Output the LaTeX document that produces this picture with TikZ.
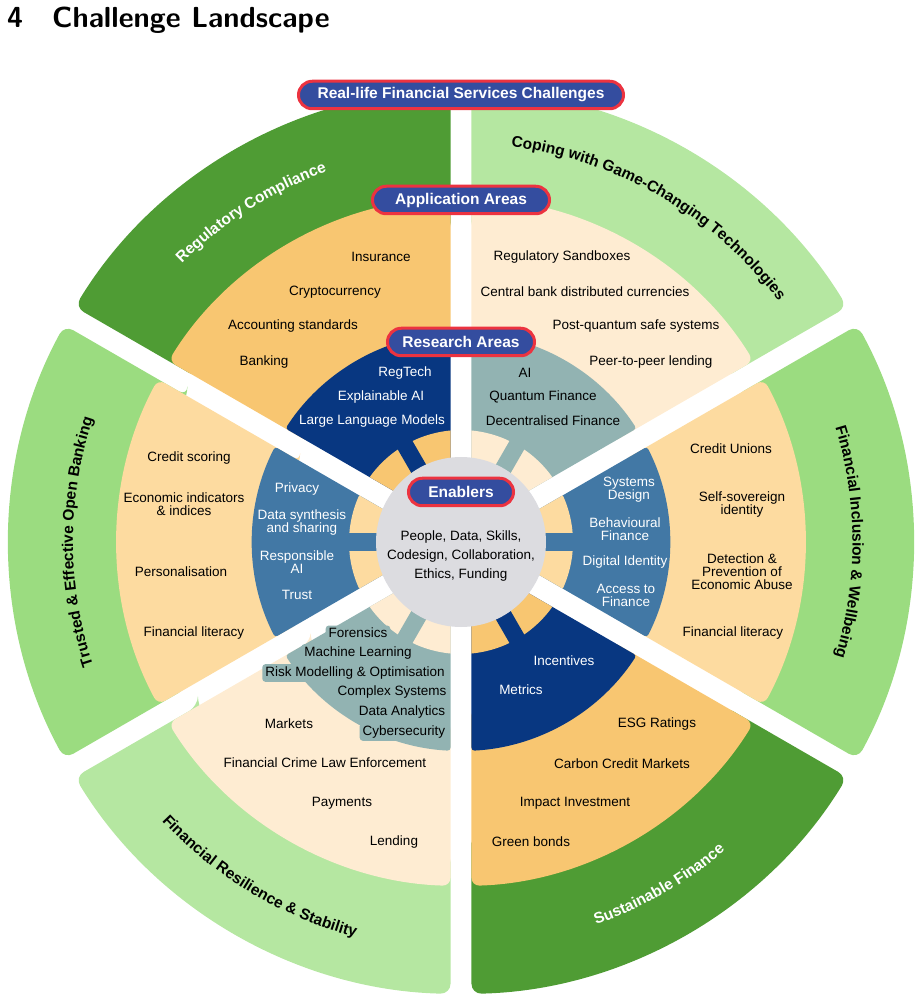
\documentclass[tikz,border=0pt]{standalone}
\usepackage{fontspec}
\setmainfont{Liberation Sans}
\usetikzlibrary{decorations.text}
\definecolor{dkgreen}{HTML}{4F9C34}
\definecolor{mdgreen}{HTML}{9BDC80}
\definecolor{ltgreen}{HTML}{B5E7A1}
\definecolor{apporange}{HTML}{F8C671}
\definecolor{ltorange}{HTML}{FDDBA0}
\definecolor{cream}{HTML}{FEECD2}
\definecolor{dkblue}{HTML}{083781}
\definecolor{mdblue}{HTML}{4278A5}
\definecolor{resteal}{HTML}{92B3B2}
\definecolor{pillblue}{HTML}{344D9F}
\definecolor{pillred}{HTML}{EC3340}
\definecolor{ctrgray}{HTML}{DCDCE0}
\newcommand\ringpath[3]{({#1-30+asin(10.5/#2)}:#2pt) -- ({#1-30+asin(10.5/#3)}:#3pt)
    arc[start angle={#1-30+asin(10.5/#3)},end angle={#1+30-asin(10.5/#3)},radius=#3pt]
    -- ({#1+30-asin(10.5/#2)}:#2pt)
    arc[start angle={#1+30-asin(10.5/#2)},end angle={#1-30+asin(10.5/#2)},radius=#2pt] -- cycle}
\begin{document}
\begin{tikzpicture}[x=1pt,y=1pt,
    lbl/.style={font=\fontsize{13.5}{13}\selectfont,align=center,inner sep=1pt},
    wlbl/.style={lbl,text=white},
    riskbox/.style={lbl,fill=resteal,rounded corners=3pt,inner xsep=3pt,inner ysep=2.5pt},
    pill/.style={draw=pillred,line width=3pt,fill=pillblue,text=white,rounded corners=13.75pt,
        minimum height=27.5pt,font=\bfseries\fontsize{15.5}{18}\selectfont}]
    \useasboundingbox (-461,-459) rectangle (460,542);
    \node[anchor=base west,inner sep=0,font=\sffamily\bfseries\fontsize{29}{34}\selectfont] (title)
        at (-454,514) {4\quad Challenge Landscape};
    \foreach \a/\cc/\ac/\rc in {120/dkgreen/apporange/dkblue,60/ltgreen/cream/resteal,
        0/mdgreen/ltorange/mdblue,-60/dkgreen/apporange/dkblue,
        -120/ltgreen/cream/resteal,180/mdgreen/ltorange/mdblue}{
    \fill[\cc,rounded corners=10pt] \ringpath{\a}{310}{452};
    \fill[\ac,rounded corners=8pt] \ringpath{\a}{180}{344};
    \fill[\rc,rounded corners=3pt] \ringpath{\a}{80}{209};
    \fill[\ac] \ringpath{\a}{84}{112};
    \draw[\rc,line width=17pt] (\a:84pt) -- (\a:113pt);
    }
    \node[circle,fill=ctrgray,minimum size=170pt,inner sep=0] (hub) at (0,0) {};
    \path[decorate,decoration={text along path,text align=center,text color=white,
        text={|\bfseries\fontsize{15.5}{18}\selectfont|Regulatory Compliance}}]
        (150:394pt) arc[start angle=150,end angle=95,radius=394pt];
    \path[decorate,decoration={text along path,text align=center,
        text={|\bfseries\fontsize{15.5}{18}\selectfont|Coping with Game-Changing Technologies}}]
        (95:398.5pt) arc[start angle=95,end angle=25,radius=398.5pt];
    \path[decorate,decoration={text along path,text align=center,
        text={|\bfseries\fontsize{15.5}{18}\selectfont|Financial Inclusion {\&} Wellbeing}}]
        (30:391.5pt) arc[start angle=30,end angle=-30,radius=391.5pt];
    \path[decorate,decoration={text along path,text align=center,text color=white,
        text={|\bfseries\fontsize{15.5}{18}\selectfont|Sustainable Finance}}]
        (-95:406pt) arc[start angle=-95,end angle=-25,radius=406pt];
    \path[decorate,decoration={text along path,text align=center,
        text={|\bfseries\fontsize{15.5}{18}\selectfont|Financial Resilience {\&} Stability}}]
        (-156:409pt) arc[start angle=-156,end angle=-86,radius=409pt];
    \path[decorate,decoration={text along path,text align=center,
        text={|\bfseries\fontsize{15.5}{18}\selectfont|Trusted {\&} Effective Open Banking}}]
        (210:388pt) arc[start angle=210,end angle=150,radius=388pt];
    \node[pill,minimum width=325pt] (challenges) at (0,447) {Real-life Financial Services Challenges};
    \node[pill,minimum width=177pt] (appareas) at (0,342) {Application Areas};
    \node[pill,minimum width=147pt] (resareas) at (0,200) {Research Areas};
    \node[pill,minimum width=105pt] (enablers) at (0,50) {Enablers};
    \node[lbl,font=\fontsize{13.5}{19}\selectfont] (enabtext) at (0,-14)
        {People, Data, Skills,\\Codesign, Collaboration,\\Ethics, Funding};
    \node[lbl] (insurance) at (-80,285) {Insurance};
    \node[lbl] (crypto) at (-126,250) {Cryptocurrency};
    \node[lbl] (accounting) at (-168,216) {Accounting standards};
    \node[lbl] (banking) at (-197,180) {Banking};
    \node[lbl] (sandboxes) at (101,285) {Regulatory Sandboxes};
    \node[lbl] (cbdc) at (124,250) {Central bank distributed currencies};
    \node[lbl] (postquantum) at (175,216) {Post-quantum safe systems};
    \node[lbl] (p2p) at (190,180) {Peer-to-peer lending};
    \node[wlbl] (regtech) at (-56,169) {RegTech};
    \node[wlbl] (xai) at (-80,145) {Explainable AI};
    \node[wlbl] (llm) at (-89,121) {Large Language Models};
    \node[lbl] (ai) at (64,169) {AI};
    \node[lbl] (quantum) at (82,145) {Quantum Finance};
    \node[lbl] (defi) at (92,121) {Decentralised Finance};
    \node[lbl] (scoring) at (-272,84) {Credit scoring};
    \node[lbl] (indicators) at (-277,37.5) {Economic indicators\\\& indices};
    \node[lbl] (personal) at (-280,-30) {Personalisation};
    \node[lbl] (litleft) at (-267,-91) {Financial literacy};
    \node[wlbl] (privacy) at (-164,53) {Privacy};
    \node[wlbl] (synthesis) at (-159,19.5) {Data synthesis\\and sharing};
    \node[wlbl] (responsible) at (-164,-20.5) {Responsible\\AI};
    \node[wlbl] (trust) at (-164,-53) {Trust};
    \node[wlbl] (sysdesign) at (168,52.5) {Systems\\Design};
    \node[wlbl] (behavioural) at (164,12.5) {Behavioural\\Finance};
    \node[wlbl] (identity) at (164,-20) {Digital Identity};
    \node[wlbl] (access) at (165,-53) {Access to\\Finance};
    \node[lbl] (unions) at (270,93) {Credit Unions};
    \node[lbl] (sovereign) at (281,37.5) {Self-sovereign\\identity};
    \node[lbl] (abuse) at (281,-30) {Detection \&\\Prevention of\\Economic Abuse};
    \node[lbl] (litright) at (272,-91) {Financial literacy};
    \node[riskbox] (forensics) at (-103,-91) {Forensics};
    \node[riskbox] (ml) at (-103,-111) {Machine Learning};
    \node[riskbox] (risk) at (-106,-131) {Risk Modelling \& Optimisation};
    \node[riskbox] (complex) at (-69,-150) {Complex Systems};
    \node[riskbox] (analytics) at (-59,-170) {Data Analytics};
    \node[riskbox] (cyber) at (-57,-190) {Cybersecurity};
    \node[lbl] (markets) at (-172,-182) {Markets};
    \node[lbl] (crime) at (-136,-221) {Financial Crime Law Enforcement};
    \node[lbl] (payments) at (-119,-261) {Payments};
    \node[lbl] (lending) at (-67,-300) {Lending};
    \node[wlbl] (incentives) at (103,-119) {Incentives};
    \node[wlbl] (metrics) at (60,-148) {Metrics};
    \node[lbl] (esg) at (196,-182) {ESG Ratings};
    \node[lbl] (carbon) at (161,-222) {Carbon Credit Markets};
    \node[lbl] (impact) at (114,-261) {Impact Investment};
    \node[lbl] (green) at (70,-300) {Green bonds};
\end{tikzpicture}
\end{document}
